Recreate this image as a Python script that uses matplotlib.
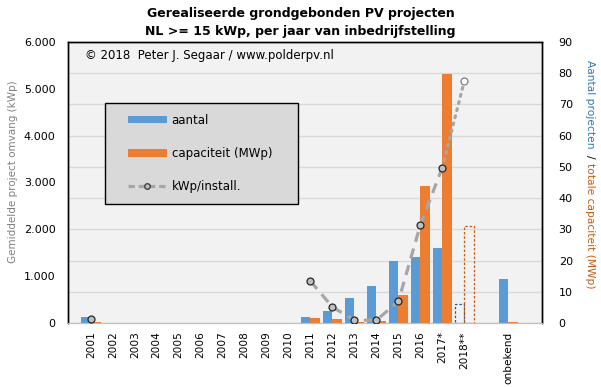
import matplotlib
matplotlib.use("Agg")
import matplotlib.pyplot as plt
import numpy as np
from matplotlib.patches import Patch, Rectangle
from matplotlib.lines import Line2D

categories = ["2001", "2002", "2003", "2004", "2005", "2006", "2007", "2008", "2009",
              "2010", "2011", "2012", "2013", "2014", "2015", "2016", "2017*", "2018**",
              "", "onbekend"]
aantal = [2, 0, 0, 0, 0, 0, 0, 0, 0, 0, 2, 4, 8, 12, 20, 21, 24, 6, np.nan, 14]
capaciteit = [0.3, 0, 0, 0, 0, 0, 0, 0, 0, 0, 1.6, 1.3, 0.4, 0.7, 9.0, 43.9, 79.7, 31, np.nan, 0.4]
kwp_install = [90, np.nan, np.nan, np.nan, np.nan, np.nan, np.nan, np.nan, np.nan, np.nan,
               895, 340, 60, 60, 460, 2090, 3320, 5160, np.nan, np.nan]
provisional = "2018**"

W, H = 601, 387
fig = plt.figure(figsize=(W / 100, H / 100), dpi=100)
fig.patch.set_facecolor("white")

L, R, T, B = 68, 542, 42, 323
ax = fig.add_axes([L / W, 1 - B / H, (R - L) / W, (B - T) / H])
ax.set_facecolor("#F2F2F2")
ax2 = ax.twinx()
ax2.patch.set_visible(False)

blue = "#5B9BD5"
orange = "#ED7D31"
x = np.arange(len(categories))
bw = 0.44
prov_idx = categories.index(provisional)

# bars on primary axis (right scale)
for i in range(len(categories)):
    a, c = aantal[i], capaciteit[i]
    if np.isnan(a):
        continue
    if i == prov_idx:
        ax.bar(x[i] - bw / 2, a, bw, facecolor="none", edgecolor="#2E5C8A",
               linestyle=(0, (2, 1.5)), linewidth=0.9, zorder=2)
        ax.bar(x[i] + bw / 2, c, bw, facecolor="none", edgecolor="#C55A11",
               linestyle=(0, (2, 1.5)), linewidth=0.9, zorder=2)
    else:
        ax.bar(x[i] - bw / 2, a, bw, color=blue, zorder=2)
        ax.bar(x[i] + bw / 2, c, bw, color=orange, zorder=2)

ax.set_ylim(0, 90)
ax.set_yticks(np.arange(0, 91, 10))
ax.yaxis.tick_right()
ax.yaxis.set_label_position("right")
ax.grid(axis="y", color="#D9D9D9", linewidth=1.0)
ax.set_axisbelow(True)
ax.set_xlim(-1.04, 20.54)
ax.set_xticks(x)
ax.set_xticklabels(categories, rotation=90, fontsize=7.6)
ax.tick_params(axis="x", length=0, pad=6)
ax.tick_params(axis="y", length=0, pad=12, labelsize=8)

# line on twin axis (left scale)
kw = np.array(kwp_install, dtype=float)
ax2.plot(x[:prov_idx], kw[:prov_idx], color="#A6A6A6", linewidth=2.3,
         linestyle=(0, (3.2, 2.2)), zorder=3)
ax2.plot(x[prov_idx - 1:prov_idx + 1], kw[prov_idx - 1:prov_idx + 1], color="#A6A6A6",
         linewidth=2.3, linestyle=(0, (0.6, 1.7)), dash_capstyle="round", zorder=3)
ax2.plot(x[:prov_idx], kw[:prov_idx], linestyle="none", marker="o", markersize=5,
         markerfacecolor="#BFBFBF", markeredgecolor="#262626", markeredgewidth=0.9, zorder=4)
ax2.plot([x[prov_idx]], [kw[prov_idx]], linestyle="none", marker="o", markersize=5,
         markerfacecolor="white", markeredgecolor="#7F7F7F", markeredgewidth=0.9, zorder=4)
ax2.set_ylim(0, 6000)
ax2.set_yticks(np.arange(0, 6001, 1000))
ax2.set_yticklabels(["0" if v == 0 else f"{v // 1000}.{v % 1000:03d}" for v in range(0, 6001, 1000)])
ax2.yaxis.tick_left()
ax2.tick_params(axis="y", length=0, pad=9, labelsize=8)

for a_ in (ax, ax2):
    for s in ("left", "top", "right"):
        a_.spines[s].set_color("black")
        a_.spines[s].set_linewidth(1.0)
    a_.spines["bottom"].set_color("#BFBFBF")

# titles
fig.text(0.5, 1 - 13 / H, "Gerealiseerde grondgebonden PV projecten", ha="center", va="center",
         fontsize=9, fontweight="bold")
fig.text(0.5, 1 - 31 / H, "NL >= 15 kWp, per jaar van inbedrijfstelling", ha="center", va="center",
         fontsize=9, fontweight="bold")

# axis labels
fig.text(13 / W, 1 - 172 / H, "Gemiddelde project omvang (kWp)", rotation=90, ha="center",
         va="center", fontsize=7.5, color="#808080")
fig.text(590 / W, 1 - 60 / H, "Aantal projecten", rotation=-90, ha="center", va="top",
         fontsize=7.7, color="#2E75B6")
fig.text(590 / W, 1 - 155 / H, "/", rotation=-90, ha="center", va="top",
         fontsize=7.7, color="black")
fig.text(590 / W, 1 - 163 / H, "totale capaciteit (MWp)", rotation=-90, ha="center", va="top",
         fontsize=7.7, color="#C55A11")

# copyright
fig.text(85 / W, 1 - 55 / H, "\u00a9 2018  Peter J. Segaar / www.polderpv.nl", ha="left",
         va="center", fontsize=8.5, color="black")

# legend
fig.patches.append(Rectangle((105 / W, 1 - 204 / H), 193 / W, 101 / H, transform=fig.transFigure,
                             facecolor="#D9D9D9", edgecolor="black", linewidth=1.0, zorder=5))
handles = [Patch(facecolor=blue, edgecolor="none"),
           Patch(facecolor=orange, edgecolor="none"),
           Line2D([], [], color="#A6A6A6", linewidth=2.3, linestyle=(0, (2, 1.2)), marker="o",
                  markersize=4, markerfacecolor="#BFBFBF", markeredgecolor="#404040")]
leg = fig.legend(handles, ["aantal", "capaciteit (MWp)", "kWp/install."], frameon=False,
                 loc="upper left", bbox_to_anchor=(122 / W, 1 - 108 / H), fontsize=8.5,
                 handlelength=3.3, handleheight=0.6, labelspacing=1.7, handletextpad=0.4,
                 borderpad=0)
leg.set_zorder(6)

fig.savefig("out.png", dpi=100)
